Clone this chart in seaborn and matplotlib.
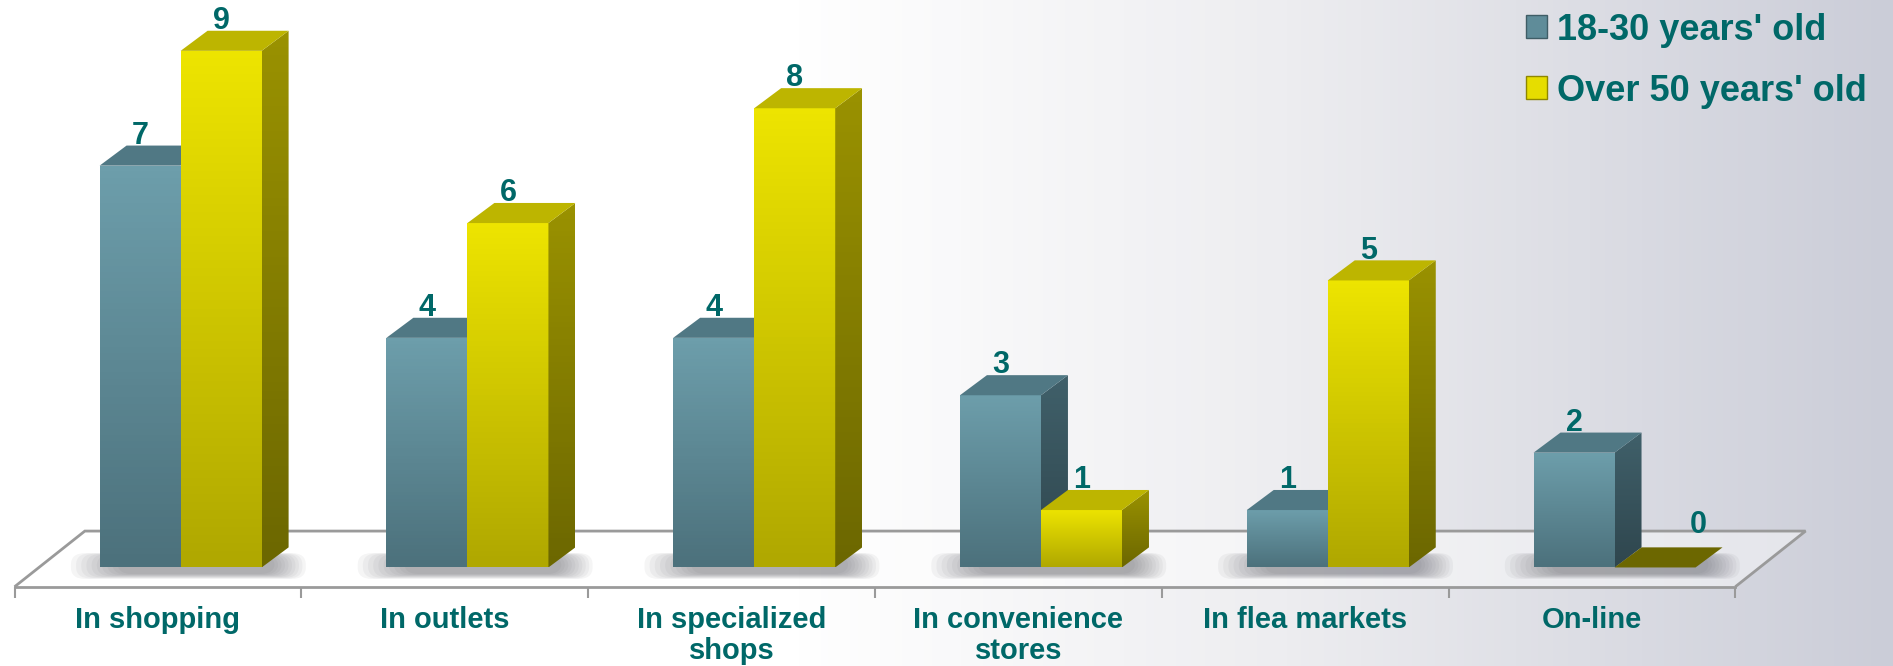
import numpy as np
import pandas as pd
import seaborn as sns
import matplotlib.pyplot as plt
from matplotlib.patches import Polygon, Patch, Rectangle, FancyBboxPatch
from matplotlib.colors import LinearSegmentedColormap

# data
places = ['In shopping', 'In outlets', 'In specialized\nshops',
          'In convenience\nstores', 'In flea markets', 'On-line']
groups = ["18-30 years' old", "Over 50 years' old"]
young = [7, 4, 4, 3, 1, 2]
older = [9, 6, 8, 1, 5, 0]

df = pd.DataFrame({
    'place': places * 2,
    'group': [groups[0]] * len(places) + [groups[1]] * len(places),
    'value': young + older,
})

sns.set_style('white')
plt.rcParams['font.family'] = ['Liberation Sans', 'DejaVu Sans']
txt = '#006868'

fig = plt.figure(figsize=(18.93, 6.66), dpi=100)

# background gradient, white on the left to grey-blue on the right
bg = fig.add_axes([0, 0, 1, 1], zorder=-10)
bg_cmap = LinearSegmentedColormap.from_list(
    'bg', [(0, '#ffffff'), (0.42, '#ffffff'), (0.68, '#ededf0'), (1, '#cbcdd8')])
bg.imshow(np.linspace(0, 1, 512)[None, :], cmap=bg_cmap, aspect='auto', extent=[0, 1, 0, 1])
bg.axis('off')

ax = fig.add_axes([0.0077, 0.119, 0.909, 0.8736])
ax.patch.set_alpha(0)

sns.barplot(data=df, x='place', y='value', hue='group', palette=['#5f8c99', '#e0d800'],
            width=0.565, saturation=1, legend=False, ax=ax)
bars = sorted([p for p in ax.patches if isinstance(p, Rectangle)], key=lambda p: p.get_x())

dx, dy = 0.094, 0.35      # depth of the boxes
shift = 0.079             # boxes sit in the middle of the floor depth
fdx, fy0, fy1 = 0.245, -0.336, 0.634

# floor
ax.add_patch(Polygon([(-0.5, fy0), (5.5, fy0), (5.5 + fdx, fy1), (-0.5 + fdx, fy1)], closed=True,
                     facecolor='white', alpha=0.45, edgecolor='none', zorder=0.5, clip_on=False))
ax.add_patch(Polygon([(-0.5, fy0), (-0.5 + fdx, fy1), (5.5 + fdx, fy1), (5.5, fy0)], closed=False,
                     fill=False, edgecolor='#9a9a9a', lw=2, zorder=0.6, clip_on=False))

# soft shadows under each pair of boxes
for i in range(len(places)):
    left = i - 0.2825 + shift
    right = i + 0.2825 + shift + dx
    for k in range(10):
        g = 0.012 * k
        ax.add_patch(FancyBboxPatch((left - 0.1 + g * 1.5, -0.2 + g * 0.8),
                                    right - left + 0.16 - g * 2.5, 0.45 - g * 1.2,
                                    boxstyle='round,pad=0,rounding_size=0.05',
                                    facecolor='#55555d', alpha=0.06, edgecolor='none',
                                    zorder=1, clip_on=False, mutation_aspect=4))

styles = {
    0: dict(top='#507884', side=('#40606a', '#2f464e'), front=('#6d9eab', '#4c717c')),
    1: dict(top='#bdb500', side=('#9a9200', '#6c6700'), front=('#ede400', '#b0a800')),
}

for p in bars:
    s = 0 if p.get_facecolor()[2] > 0.4 else 1
    p.set_x(p.get_x() + shift)
    x0, w, h = p.get_x(), p.get_width(), p.get_height()
    i = int(round(x0 + w))
    z = 2 + i * 0.1 + s * 0.05
    st = styles[s]

    # front face with vertical gradient
    p.set_zorder(z)
    p.set_edgecolor('none')
    if h > 0:
        cm = LinearSegmentedColormap.from_list('f', [st['front'][1], st['front'][0]])
        im = ax.imshow(np.linspace(0, 1, 64)[:, None], cmap=cm, origin='lower', aspect='auto',
                       extent=[x0, x0 + w, 0, h], zorder=z)
        im.set_clip_path(p)
        cs = LinearSegmentedColormap.from_list('s', [st['side'][1], st['side'][0]])
        side = Polygon([(x0 + w, 0), (x0 + w + dx, dy), (x0 + w + dx, h + dy), (x0 + w, h)],
                       facecolor='none', edgecolor='none', zorder=z)
        ax.add_patch(side)
        ims = ax.imshow(np.linspace(0, 1, 64)[:, None], cmap=cs, origin='lower', aspect='auto',
                        extent=[x0 + w, x0 + w + dx, 0, h + dy], zorder=z)
        ims.set_clip_path(side)
        top_color = st['top']
    else:
        top_color = st['side'][1]
    ax.add_patch(Polygon([(x0, h), (x0 + w, h), (x0 + w + dx, h + dy), (x0 + dx, h + dy)],
                         facecolor=top_color, edgecolor='none', zorder=z))

    lx = x0 + w / 2 if h > 0 else x0 + w / 2 + 0.15
    ly = h + dy + 0.03 if h > 0 else h + dy + 0.25
    ax.text(lx, ly, f'{int(h)}', ha='center', va='baseline',
            fontsize=22, fontweight='bold', color=txt, zorder=10)

ax.set_xlim(-0.5, 5.5)
ax.set_ylim(fy0, 9.8)
ax.set_xlabel('')
ax.set_ylabel('')
ax.set_yticks([])
ax.set_xticks(range(len(places)))
ax.set_xticklabels(places, fontsize=21, fontweight='bold', color=txt, linespacing=1.15)
ax.set_xticks(np.arange(-0.5, 6.0, 1), minor=True)
ax.tick_params(axis='x', which='major', length=0, pad=14)
ax.tick_params(axis='x', which='minor', bottom=True, length=8, width=1.5,
               color='#9a9a9a', direction='out')
for side_name in ['top', 'right', 'left']:
    ax.spines[side_name].set_visible(False)
ax.spines['bottom'].set_color('#9a9a9a')
ax.spines['bottom'].set_linewidth(2)

handles = [Patch(facecolor='#5f8c99', edgecolor='#3f5d66'),
           Patch(facecolor='#e6dd00', edgecolor='#8f8700')]
fig.legend(handles, groups, loc='upper left', bbox_to_anchor=(1493 / 1893, 1.03),
           frameon=False, prop={'size': 26, 'weight': 'bold'}, labelcolor=txt,
           handlelength=0.6, handleheight=0.6, handletextpad=0.28, labelspacing=0.72)

fig.savefig('out.png', dpi=100)
